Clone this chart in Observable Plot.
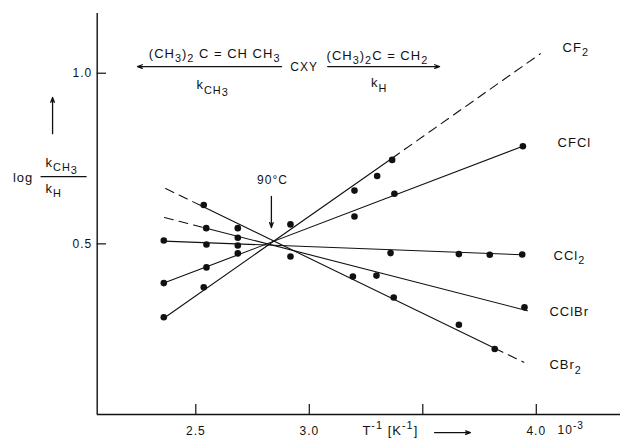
<!DOCTYPE html>
<html><head><meta charset="utf-8">
<script src="https://cdn.jsdelivr.net/npm/d3@7"></script>
<script src="https://cdn.jsdelivr.net/npm/@observablehq/plot@0.6"></script>
<style>
body{margin:0;background:#fff;}
#chart svg{display:block;}
#chart text{white-space:pre;}
</style></head><body><div id="chart"></div>
<script>
// ---- measured points: x = 1/T (10^-3 K^-1), y = log(kCH3/kH)
const xCF2   = [2.359, 2.535, 2.917, 3.199, 3.299, 3.365];
const yCF2   = [0.285, 0.373, 0.557, 0.656, 0.699, 0.746];
const xCFCl  = [2.359, 2.547, 2.685, 3.199, 3.375, 3.941];
const yCFCl  = [0.385, 0.431, 0.472, 0.580, 0.647, 0.786];
const xCCl2  = [2.359, 2.547, 2.685, 3.358, 3.659, 3.795, 3.938];
const yCCl2  = [0.510, 0.498, 0.495, 0.473, 0.470, 0.468, 0.469];
const xCClBr = [2.546, 2.685, 3.296, 3.948];
const yCClBr = [0.546, 0.518, 0.407, 0.314];
const xCBr2  = [2.535, 2.685, 2.917, 3.192, 3.372, 3.659, 3.817];
const yCBr2  = [0.614, 0.546, 0.463, 0.404, 0.343, 0.263, 0.192];

// ---- fitted lines (solid parts and dashed extrapolations), [x, y]
const lineCF2   = [[2.359, 0.282], [3.365, 0.751]];
const dashCF2   = [[3.365, 0.751], [4.018, 1.057]];
const lineCFCl  = [[2.359, 0.385], [3.941, 0.786]];
const lineCCl2  = [[2.359, 0.508], [3.938, 0.468]];
const lineCClBr = [[2.546, 0.546], [3.961, 0.304]];
const dashCClBr = [[2.362, 0.577], [2.546, 0.546]];
const lineCBr2  = [[2.535, 0.608], [3.817, 0.194]];
const dashCBr2a = [[2.367, 0.662], [2.535, 0.608]];
const dashCBr2b = [[3.817, 0.194], [3.945, 0.153]];

// ---- axes
const xDomain = [2.0656, 4.371];
const yDomain = [0, 1.175];
const xTicks = [2.5, 3.0, 3.5, 4.0];
const xTickLabels = ["2.5", "3.0", "", "4.0"];
const yTicks = [0.5, 1.0];
const yTickLabels = ["0.5", "1.0"];

// ---- annotations (data coordinates)
const labelsStart = [
  {text: "CF_2",  x: 4.116, y: 1.075, size: 13},
  {text: "CFCl",  x: 4.094, y: 0.797, size: 13},
  {text: "CCl_2", x: 4.076, y: 0.466, size: 13},
  {text: "CClBr", x: 4.058, y: 0.302, size: 13},
  {text: "CBr_2", x: 4.058, y: 0.146, size: 13},
  {text: "T^{-1} [K^{-1}]", x: 3.234, y: -0.047, size: 13},
  {text: "10^{-3}", x: 4.094, y: -0.047, size: 12},
  {text: "k_{CH_3}", x: 1.838, y: 0.738, size: 13},
  {text: "k_H", x: 1.838, y: 0.662, size: 13}
];
const labelsMiddle = [
  {text: "log", x: 1.739, y: 0.694, size: 13},
  {text: "(CH_3)_2 C = CH CH_3", x: 2.583, y: 1.058, size: 13},
  {text: "k_{CH_3}", x: 2.574, y: 0.965, size: 13},
  {text: "CXY", x: 2.977, y: 1.017, size: 12},
  {text: "(CH_3)_2C = CH_2", x: 3.300, y: 1.0517, size: 13},
  {text: "k_H", x: 3.308, y: 0.972, size: 13},
  {text: "90°C", x: 2.838, y: 0.688, size: 12}
];
const arrows = [
  {x1: 2.878, y1: 1.0196, x2: 2.243, y2: 1.0196},
  {x1: 3.081, y1: 1.0196, x2: 3.574, y2: 1.0196},
  {x1: 2.833, y1: 0.639, x2: 2.833, y2: 0.548},
  {x1: 1.869, y1: 0.823, x2: 1.869, y2: 0.929},
  {x1: 3.552, y1: -0.053, x2: 3.710, y2: -0.053}
];
const fractionBars = [{x1: 1.816, x2: 2.019, y: 0.697}];

// ---- build tables
const pts = (s, xs, ys) => xs.map((x, i) => ({series: s, x, y: ys[i]}));
const seg = (s, arr) => arr.map(([x, y]) => ({series: s, x, y}));
const dots = [
  ...pts("CF2", xCF2, yCF2), ...pts("CFCl", xCFCl, yCFCl), ...pts("CCl2", xCCl2, yCCl2),
  ...pts("CClBr", xCClBr, yCClBr), ...pts("CBr2", xCBr2, yCBr2)
];
const solid = [
  ...seg("CF2", lineCF2), ...seg("CFCl", lineCFCl), ...seg("CCl2", lineCCl2),
  ...seg("CClBr", lineCClBr), ...seg("CBr2", lineCBr2)
];
const dashed = [
  ...seg("CF2", dashCF2), ...seg("CClBr", dashCClBr),
  ...seg("CBr2a", dashCBr2a), ...seg("CBr2b", dashCBr2b)
];

const ink = "#111";
const plot = Plot.plot({
  width: 621, height: 438,
  marginLeft: 96.7, marginRight: 1, marginTop: 13, marginBottom: 24,
  x: {domain: xDomain},
  y: {domain: yDomain},
  style: {fontFamily: "'Liberation Sans', Arial, sans-serif", fontSize: "12px", background: "#fff", color: ink, letterSpacing: "1px"},
  marks: [
    Plot.ruleY([yDomain[0]], {stroke: ink, strokeWidth: 1.4}),
    Plot.ruleX([xDomain[0]], {stroke: ink, strokeWidth: 1.4}),
    Plot.tickX(xTicks, {x: d => d, insetTop: 391, stroke: ink, strokeWidth: 1.2}),
    Plot.tickY(yTicks, {y: d => d, insetRight: 514, stroke: ink, strokeWidth: 1.2}),
    Plot.axisX(xTicks, {tickSize: 0, tickPadding: 12, fontSize: 12, tickFormat: d => xTickLabels[xTicks.indexOf(d)]}),
    Plot.axisY(yTicks, {tickSize: 0, tickPadding: 5, fontSize: 12, tickFormat: d => yTickLabels[yTicks.indexOf(d)]}),
    Plot.line(solid, {x: "x", y: "y", z: "series", stroke: ink, strokeWidth: 1.1}),
    Plot.line(dashed, {x: "x", y: "y", z: "series", stroke: ink, strokeWidth: 1.1, strokeDasharray: "9,6"}),
    Plot.dot(dots, {x: "x", y: "y", r: 3.3, fill: ink, stroke: "none"}),
    Plot.arrow(arrows, {x1: "x1", y1: "y1", x2: "x2", y2: "y2", stroke: ink, strokeWidth: 1.3, headLength: 6, headAngle: 40}),
    Plot.link(fractionBars, {x1: "x1", x2: "x2", y1: "y", y2: "y", stroke: ink, strokeWidth: 1.1}),
    Plot.text(labelsStart, {x: "x", y: "y", text: "text", fontSize: d => d.size, textAnchor: "start", fill: ink}),
    Plot.text(labelsMiddle, {x: "x", y: "y", text: "text", fontSize: d => d.size, textAnchor: "middle", fill: ink})
  ]
});
document.getElementById("chart").appendChild(plot);

// ---- turn _x / ^x markup into real sub/superscript tspans
const SUB_SCALE = 0.84;
function parseRich(s) {
  const out = [];
  function walk(str, depth, shift) {
    let buf = "";
    let i = 0;
    const flush = () => { if (buf) { out.push({text: buf, depth, shift}); buf = ""; } };
    while (i < str.length) {
      const c = str[i];
      if (c === "_" || c === "^") {
        flush();
        let inner;
        if (str[i + 1] === "{") {
          let lvl = 1, j = i + 2;
          while (j < str.length && lvl > 0) { if (str[j] === "{") lvl++; else if (str[j] === "}") lvl--; j++; }
          inner = str.slice(i + 2, j - 1); i = j;
        } else { inner = str[i + 1]; i += 2; }
        const step = depth === 0 ? 0.36 : 0.16;
        walk(inner, depth + 1, shift + (c === "_" ? step : -0.42));
      } else { buf += c; i++; }
    }
    flush();
  }
  walk(s, 0, 0);
  return out;
}
plot.querySelectorAll("text").forEach(t => {
  const s = t.textContent;
  if (!/[_^]/.test(s)) return;
  const fs = parseFloat(getComputedStyle(t).fontSize) || 12;
  const parts = parseRich(s);
  t.textContent = "";
  let cur = 0;
  parts.forEach(p => {
    const ts = document.createElementNS("http://www.w3.org/2000/svg", "tspan");
    const target = p.shift * fs;
    ts.setAttribute("dy", (target - cur).toFixed(2));
    cur = target;
    if (p.depth > 0) ts.setAttribute("font-size", (fs * SUB_SCALE).toFixed(1));
    ts.textContent = p.text;
    t.appendChild(ts);
  });
});
</script></body></html>
